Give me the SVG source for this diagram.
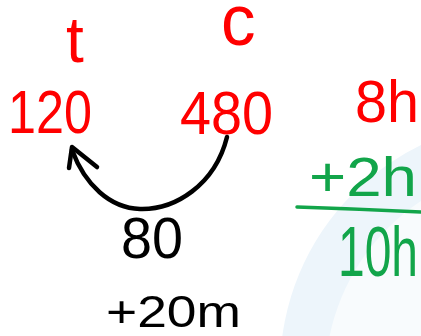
<svg xmlns="http://www.w3.org/2000/svg" width="421" height="336" viewBox="0 0 421 336">
<style>
text{font-family:"Liberation Sans","DejaVu Sans",sans-serif;}
.r{fill:#ff0000;}
.g{fill:#12a54a;}
.k{fill:#000;}
.conn{fill:none;stroke:#000;stroke-width:4.5;stroke-linecap:round;stroke-linejoin:round;}
</style>
<rect width="421" height="336" fill="#fff"/>
<g id="watermark">
<circle cx="530" cy="370" r="250" fill="#edf5fb"/>
<circle cx="540" cy="380" r="215" fill="#f8fbfd"/>
</g>
<g id="label-t"><text class="r" x="66" y="62" font-size="64">t</text></g>
<g id="label-c"><text class="r" transform="translate(221,45) scale(1.5,1.55)" font-size="46">c</text></g>
<g id="node-120"><text class="r" x="8" y="133" font-size="62" textLength="84" lengthAdjust="spacingAndGlyphs">120</text></g>
<g id="node-480"><text class="r" x="180" y="134" font-size="62" textLength="93" lengthAdjust="spacingAndGlyphs">480</text></g>
<g id="node-8h"><text class="r" x="355" y="122" font-size="60" textLength="64" lengthAdjust="spacingAndGlyphs">8h</text></g>
<g id="node-2h"><text class="g" x="309" y="196" font-size="56" textLength="108" lengthAdjust="spacingAndGlyphs">+2h</text></g>
<g id="sum-line"><path d="M297,207 Q360,209 421,212" fill="none" stroke="#12a54a" stroke-width="3.5" stroke-linecap="round"/></g>
<g id="node-10h"><text class="g" transform="translate(338,276) scale(1,1.45)" font-size="48">10h</text></g>
<g id="label-80"><text class="k" x="121" y="258" font-size="58" textLength="62" lengthAdjust="spacingAndGlyphs">80</text></g>
<g id="label-20m"><text class="k" x="106" y="327" font-size="44" textLength="135" lengthAdjust="spacingAndGlyphs">+20m</text></g>
<g id="connectors">
<path class="conn" d="M227,137 C215,185 175,210 140,209 C110,208 85,185 72,150"/>
<path class="conn" d="M69,168 L72,147 L97,167"/>
</g>
</svg>
